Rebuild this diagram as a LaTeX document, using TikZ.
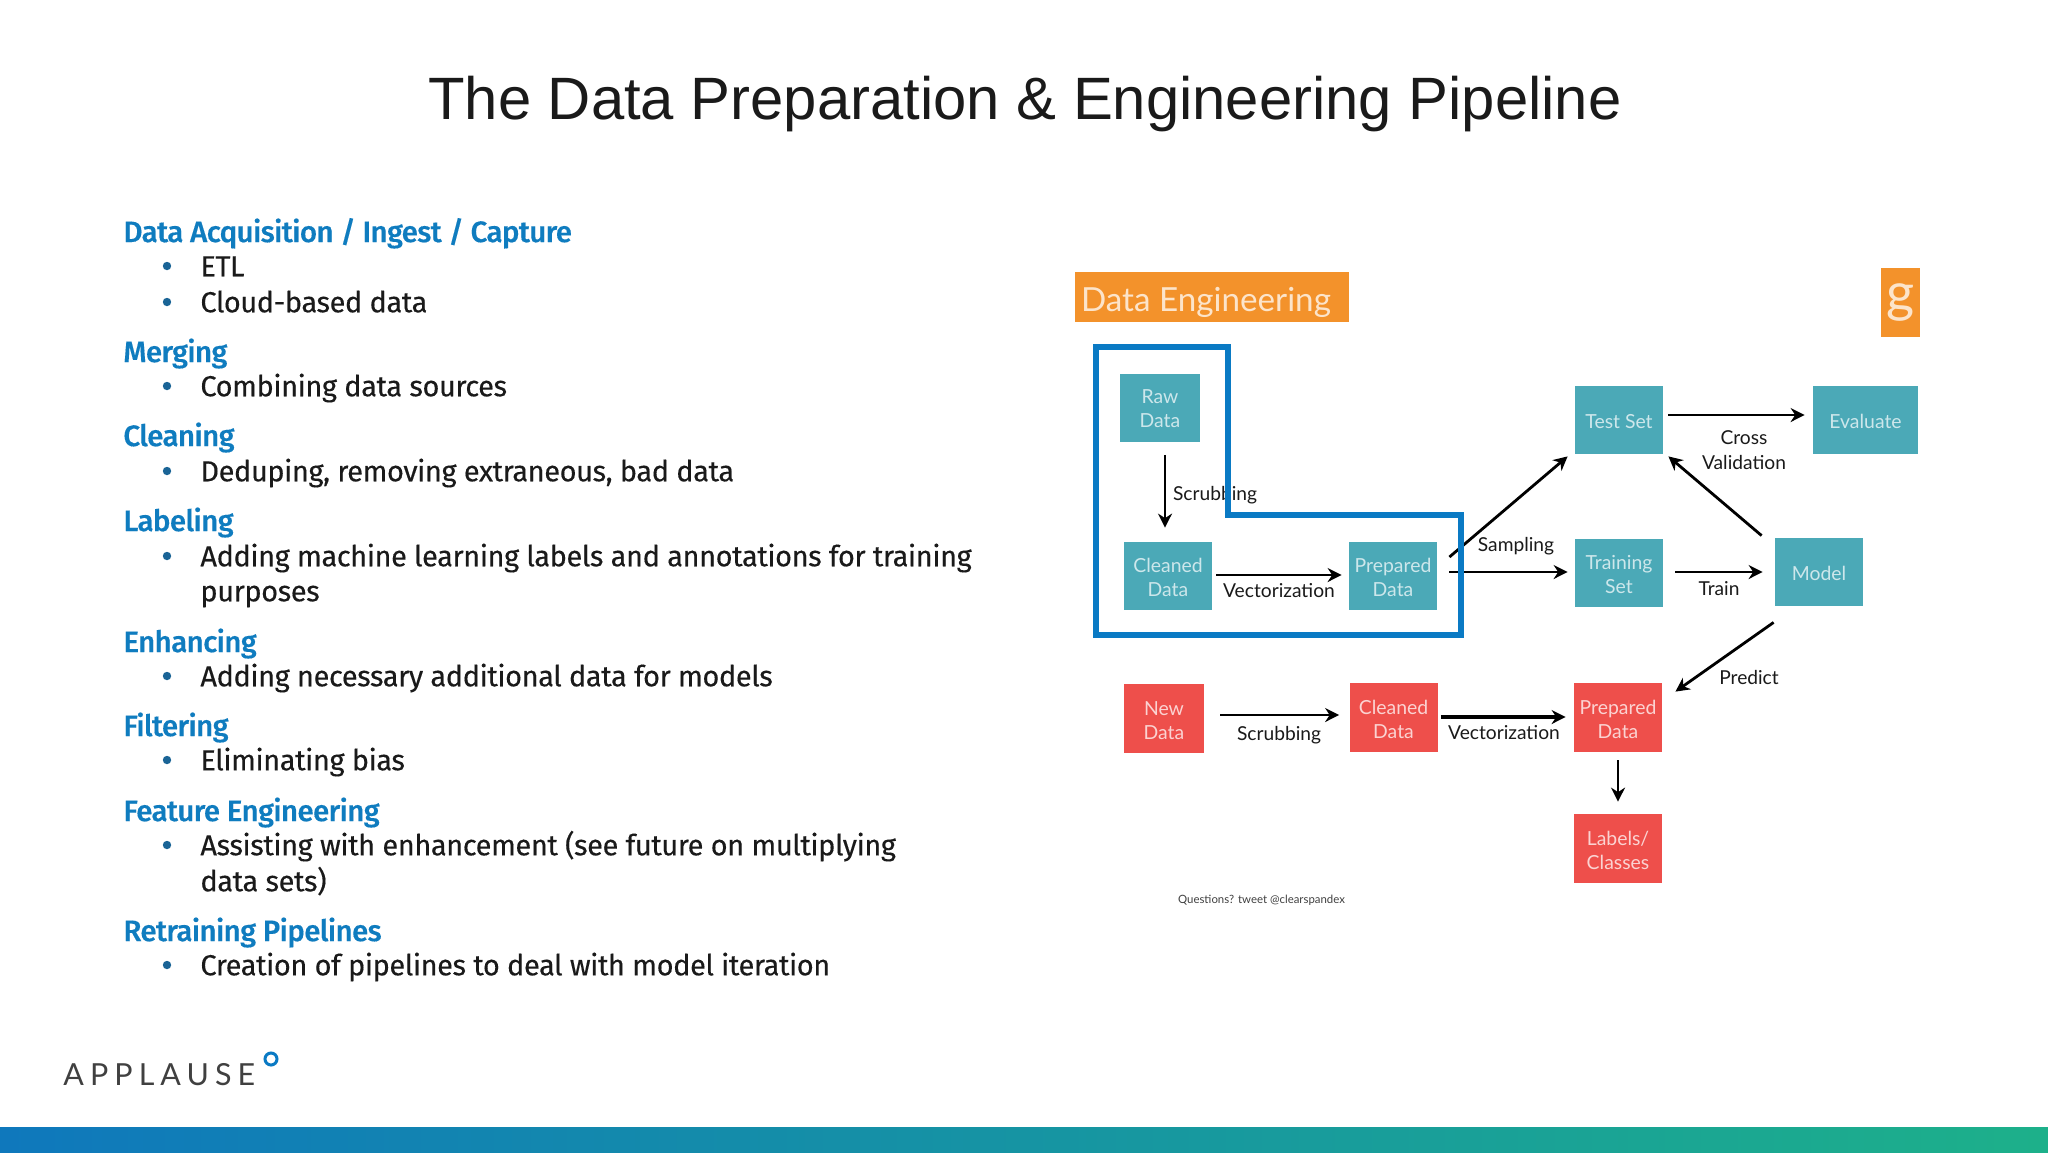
\documentclass[tikz,border=0pt]{standalone}
\usepackage{fontspec}
\setmainfont[LetterSpace=-1.5,FakeBold=0.25]{Fira Sans}
\newfontfamily\titlef{Liberation Sans}
\newfontfamily\diagf{Lato}
\newfontfamily\headf[LetterSpace=-2.3,FakeBold=0.3]{Fira Sans Medium}
\newfontfamily\logof[LetterSpace=20]{Lato}
\usetikzlibrary{calc,arrows.meta}
\definecolor{teal}{HTML}{4BA9B7}
\definecolor{redbox}{HTML}{EE4F4B}
\definecolor{orangebox}{HTML}{F3922B}
\definecolor{blueline}{HTML}{0A7AC4}
\definecolor{headblue}{HTML}{0F7CBF}
\definecolor{bulletblue}{HTML}{1A6496}
\definecolor{inktext}{HTML}{1A1A1A}
\definecolor{barleft}{HTML}{0F78BC}
\definecolor{barright}{HTML}{1DB08A}
\newcommand\tx[1]{\raisebox{0pt}[\dimexpr\height+3.6pt\relax][\depth]{\begin{tabular}{@{}c@{}}#1\end{tabular}}}
\newcommand\txr[1]{\raisebox{0pt}[\dimexpr\height+4.2pt\relax][\depth]{\begin{tabular}{@{}c@{}}#1\end{tabular}}}
\tikzset{
 boxbase/.style={minimum width=#1*0.5pt,inner sep=0pt,align=center,font=\diagf\fontsize{9.7}{11.9}\selectfont},
 tealbox/.style={boxbase=88,minimum height=34pt,fill=teal,text=white!72!teal},
 redsq/.style={boxbase=88,minimum height=34.5pt,fill=redbox,text=white!75!redbox},
 arr/.style={draw=black,line width=1.4pt,-{Stealth[length=7pt,width=7pt]}},
 plain/.style={inner sep=0pt,align=center,text=inktext,font=\diagf\fontsize{9.6}{12.2}\selectfont},
 head/.style={anchor=mid west,inner sep=0pt,yshift=-2.4pt,text=headblue,font=\headf\fontsize{14.8}{16}\selectfont},
 item/.style={anchor=mid west,inner sep=0pt,yshift=-2pt,text=inktext,font=\fontsize{14.5}{16}\selectfont},
 dotb/.style={circle,fill=bulletblue,inner sep=0pt,minimum size=4.2pt},
}
\begin{document}
\begin{tikzpicture}[x=0.5pt,y=-0.5pt]
\useasboundingbox (0,0) rectangle (2048,1152);
\fill[white] (0,0) rectangle (2048,1152);
\shade[left color=barleft,right color=barright] (0,1127) rectangle (2048,1152);
\node[inner sep=0pt,text=inktext,font=\titlef\fontsize{29.9}{36}\selectfont] (title) at (1025,104) {The Data Preparation \& Engineering Pipeline};
% left list
\node[head] (h1) at (123,232) {Data Acquisition / Ingest / Capture};
\node[dotb] (b1) at (167,266) {}; \node[item] (t1) at (200,267) {ETL};
\node[dotb] (b2) at (167,302) {}; \node[item] (t2) at (200,303) {Cloud-based data};
\node[head] (h2) at (123,352) {Merging};
\node[dotb] (b3) at (167,386) {}; \node[item] (t3) at (200,387) {Combining data sources};
\node[head] (h3) at (123,436) {Cleaning};
\node[dotb] (b4) at (167,471) {}; \node[item] (t4) at (200,472) {Deduping, removing extraneous, bad data};
\node[head] (h4) at (123,521) {Labeling};
\node[dotb] (b5) at (167,556) {}; \node[item] (t5) at (200,557) {Adding machine learning labels and annotations for training};
\node[item] (t5b) at (200,592) {purposes};
\node[head] (h5) at (123,642) {Enhancing};
\node[dotb] (b6) at (167,676) {}; \node[item] (t6) at (200,677) {Adding necessary additional data for models};
\node[head] (h6) at (123,726) {Filtering};
\node[dotb] (b7) at (167,760) {}; \node[item] (t7) at (200,761) {Eliminating bias};
\node[head] (h7) at (123,811) {Feature Engineering};
\node[dotb] (b8) at (167,845) {}; \node[item] (t8) at (200,846) {Assisting with enhancement (see future on multiplying};
\node[item] (t8b) at (200,882) {data sets)};
\node[head] (h8) at (123,931) {Retraining Pipelines};
\node[dotb] (b9) at (167,965) {}; \node[item] (t9) at (200,966) {Creation of pipelines to deal with model iteration};
% logo
\node[anchor=base west,inner sep=0pt,text=black!75,font=\logof\fontsize{15.2}{18}\selectfont] (logo) at (63,1085) {APPLAUSE};
\node[circle,draw=blueline,line width=1.5pt,minimum size=6pt,inner sep=0pt] (ring) at (271,1059) {};
% diagram header
\node[fill=orangebox,minimum width=137pt,minimum height=25pt,inner sep=0pt,text=white!75!orangebox,text height=14pt,text depth=0pt,font=\diagf\fontsize{16.6}{20}\selectfont] (dehead) at (1212,297) {\hspace*{-6pt}Data Engineering};
\node[fill=orangebox,minimum width=19.5pt,minimum height=34.5pt,inner sep=0pt,text=white!75!orangebox,font=\diagf\fontsize{27}{28}\selectfont] (glogo) at (1900.5,302.5) {g};
% teal boxes
\node[tealbox,boxbase=80] (raw) at (1160,407.5) {\tx{Raw\\Data}};
\node[tealbox] (clean) at (1168,576) {\tx{Cleaned\\Data}};
\node[tealbox] (prep) at (1393,576) {\tx{Prepared\\Data}};
\node[tealbox] (test) at (1619,420) {\tx{Test Set}};
\node[tealbox,boxbase=105] (eval) at (1865.5,420) {\tx{Evaluate}};
\node[tealbox] (train) at (1619,573) {\tx{Training\\Set}};
\node[tealbox] (model) at (1819,572) {\tx{Model}};
% red boxes
\node[redsq,boxbase=80] (new) at (1164,718.5) {\txr{New\\Data}};
\node[redsq] (clean2) at (1393.5,717.5) {\txr{Cleaned\\Data}};
\node[redsq] (prep2) at (1618,717.5) {\txr{Prepared\\Data}};
\node[redsq] (labels) at (1618,848.5) {\txr{Labels/\\Classes}};
% labels
\node[plain] (lscrub) at (1215,495) {Scrubbing};
\node[plain] (lvec) at (1279,591) {Vectorization};
\node[plain] (lsamp) at (1516,546) {Sampling};
\node[plain] (lcross) at (1744,450) {Cross\\Validation};
\node[plain] (ltrain) at (1719,589) {Train};
\node[plain] (lpred) at (1749,677) {Predict};
\node[plain] (lscrub2) at (1279,735) {Scrubbing};
\node[plain] (lvec2) at (1504,733) {Vectorization};
\node[plain,font=\diagf\fontsize{5.7}{8}\selectfont,text=black!75] (lq) at (1261.5,900) {Questions? tweet @clearspandex};
% connectors
\draw[arr] ($(raw.south)+(5,13)$) -- ($(clean.north)+(-3,-14)$);
\draw[arr] ($(clean.east)+(4,-1)$) -- ($(prep.west)+(-7,-1)$);
\draw[arr] ($(prep.east)+(12,-4)$) -- ($(train.west)+(-7,-1)$);
\draw[arr] ($(prep.east)+(12,-19)$) -- ($(test.south west)+(-7,2)$);
\draw[arr] ($(test.east)+(5,-5)$) -- ($(eval.west)+(-8,-5)$);
\draw[arr] ($(train.east)+(12,-1)$) -- ($(model.west)+(-12,0)$);
\draw[arr] ($(model.north west)+(-13,-2)$) -- ($(test.south east)+(5,2)$);
\draw[arr] ($(model.south west)+(-1,16)$) -- ($(prep2.north east)+(13,9)$);
\draw[arr] ($(new.east)+(16,-3.5)$) -- ($(clean2.west)+(-10,-2.5)$);
\draw[arr,line width=1.8pt] ($(clean2.east)+(3,-0.5)$) -- ($(prep2.west)+(-8,-0.5)$);
\draw[arr] ($(prep2.south)+(0,8)$) -- ($(labels.north)+(0,-12)$);
% blue outline
\draw[blueline,line width=3pt,miter limit=10] (1096,347) -- (1228,347) -- (1228,514.5) -- (1461,514.5) -- (1461,635) -- (1096,635) -- cycle;
\end{tikzpicture}
\end{document}
